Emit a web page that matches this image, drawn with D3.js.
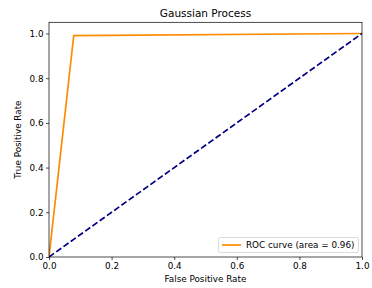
<!DOCTYPE html>
<html><head><meta charset="utf-8">
<script src="https://cdn.jsdelivr.net/npm/d3@7"></script>
<style>body{margin:0;background:#fff}svg{display:block}text{font-family:"DejaVu Sans",sans-serif;fill:#000}</style>
</head><body>
<script>
const fpr = [0, 0.079, 1];
const tpr = [0, 0.99, 1];
const chance = [[0,0],[1,1]];
const xTicks = [0,0.2,0.4,0.6,0.8,1.0];
const yTicks = [0,0.2,0.4,0.6,0.8,1.0];
const titleText = "Gaussian Process";
const legendText = "ROC curve (area = 0.96)";

const W=372,H=288;
const L=49,R=362,T=22.3,B=257;
const svg=d3.select("body").append("svg").attr("width",W).attr("height",H);
const x=d3.scaleLinear().domain([0,1]).range([L,R]);
const y=d3.scaleLinear().domain([0,1.05]).range([B,T]);

const gx=svg.append("g").attr("transform",`translate(0,${B})`)
 .call(d3.axisBottom(x).tickValues(xTicks).tickFormat(d3.format(".1f")).tickSize(3).tickPadding(2.5));
const gy=svg.append("g").attr("transform",`translate(${L},0)`)
 .call(d3.axisLeft(y).tickValues(yTicks).tickFormat(d3.format(".1f")).tickSize(3).tickPadding(2.5));
[gx,gy].forEach(g=>{g.select(".domain").remove();g.selectAll("line").attr("stroke","#000").attr("stroke-width",0.7);
 g.selectAll("text").style("font-size","8.8px").attr("fill","#222");});

const line=d3.line().x(d=>x(d[0])).y(d=>y(d[1]));
svg.append("clipPath").attr("id","c").append("rect").attr("x",L).attr("y",T).attr("width",R-L).attr("height",B-T);
const pg=svg.append("g").attr("clip-path","url(#c)");
pg.append("path").datum(fpr.map((v,i)=>[v,tpr[i]])).attr("d",line).attr("fill","none").attr("stroke","#ff8c00").attr("stroke-width",1.7);
pg.append("path").datum(chance).attr("d",line).attr("fill","none").attr("stroke","#000080").attr("stroke-width",1.7).attr("stroke-dasharray","6.2,2.7");

svg.append("rect").attr("x",L).attr("y",T).attr("width",R-L).attr("height",B-T).attr("fill","none").attr("stroke","#000").attr("stroke-width",0.7);

svg.append("text").attr("x",(L+R)/2).attr("y",T-5.5).attr("text-anchor","middle").style("font-size","10.5px").attr("fill","#222").text(titleText);
svg.append("text").attr("x",(L+R)/2).attr("y",281.5).attr("text-anchor","middle").style("font-size","8.8px").attr("fill","#222").text("False Positive Rate");
svg.append("text").attr("transform",`translate(21,${(T+B)/2}) rotate(-90)`).attr("text-anchor","middle").style("font-size","8.8px").attr("fill","#222").text("True Positive Rate");

const lg=svg.append("g");
lg.append("rect").attr("x",218.5).attr("y",237.5).attr("width",140).attr("height",15).attr("rx",2).attr("fill","#fff").attr("fill-opacity",0.8).attr("stroke","#ccc").attr("stroke-width",0.7);
lg.append("line").attr("x1",222).attr("x2",241).attr("y1",245).attr("y2",245).attr("stroke","#ff8c00").attr("stroke-width",1.7);
lg.append("text").attr("x",246).attr("y",248.3).style("font-size","8.8px").attr("fill","#222").text(legendText);
</script>
</body></html>
